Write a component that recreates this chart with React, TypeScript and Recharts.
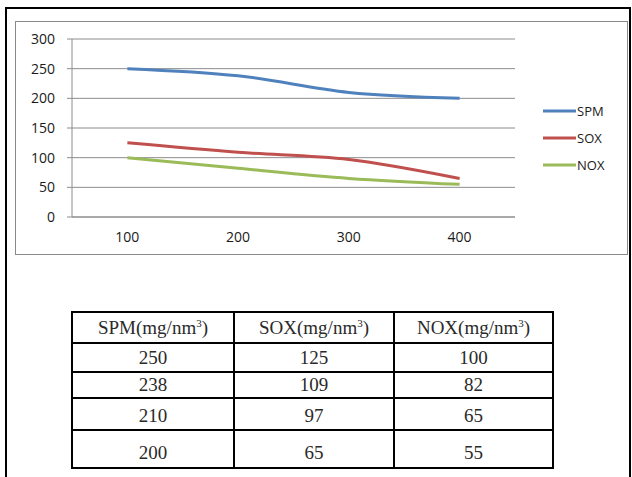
import { LineChart, Line, XAxis, YAxis, CartesianGrid, Legend } from "recharts"

const categories = [100, 200, 300, 400]
const spm = [250, 238, 210, 200]
const sox = [125, 109, 97, 65]
const nox = [100, 82, 65, 55]
const yTicks = [0, 50, 100, 150, 200, 250, 300]
const bandEdges = [50, 150, 250, 350, 450]
const headers = ["SPM", "SOX", "NOX"]
const unit = "(mg/nm"

const chartData = categories.map((c, i) => ({ x: c, SPM: spm[i], SOX: sox[i], NOX: nox[i] }))

const rowHeights = [29, 26, 32, 38]
const rowAlign: Array<"middle" | "bottom"> = ["middle", "middle", "bottom", "bottom"]
const rowPad = [0, 0, 2, 3]

const axisFont = { fontSize: 14, fill: "#1a1a1a", fontFamily: "'Open Sans', sans-serif" }
const serif = "'Liberation Serif', 'Times New Roman', serif"

function LegendBox(props: any) {
  const items = [...(props.payload || [])].sort(
    (a: any, b: any) => headers.indexOf(a.value) - headers.indexOf(b.value)
  )
  return (
    <div style={{ fontFamily: "'Open Sans', sans-serif", fontSize: 13, color: "#1a1a1a" }}>
      {items.map((it: any) => (
        <div key={it.value} style={{ display: "flex", alignItems: "center", height: 27 }}>
          <svg width={33} height={10}>
            <line x1={0} y1={5} x2={33} y2={5} stroke={it.color} strokeWidth={3} />
          </svg>
          <span style={{ marginLeft: 1 }}>{it.value}</span>
        </div>
      ))}
    </div>
  )
}

const cell = (extra: any) => ({
  border: "2px solid #000",
  padding: 0,
  fontFamily: serif,
  fontSize: 19,
  lineHeight: "22px",
  color: "#2a2a2a",
  ...extra,
})

export default function App() {
  return (
    <div style={{ position: "absolute", left: 0, top: 0, width: 632, height: 477, overflow: "hidden", background: "#fff" }}>
      <div
        style={{
          position: "absolute",
          left: 5,
          top: 7,
          width: 622,
          height: 480,
          borderLeft: "2px solid #000",
          borderTop: "2px solid #000",
          borderRight: "2px solid #000",
        }}
      />
      <div style={{ position: "absolute", left: 15, top: 21, width: 611, height: 232, border: "1px solid #8a8a8a" }}>
        <LineChart width={611} height={232} data={chartData} margin={{ top: 17, right: 32, bottom: 7, left: 0 }}>
          <CartesianGrid vertical={false} stroke="#8c8c8c" strokeWidth={1} />
          <XAxis
            xAxisId="edges"
            type="number"
            domain={[50, 450]}
            ticks={bandEdges}
            tick={false}
            axisLine={false}
            tickLine={{ stroke: "#8c8c8c" }}
            tickSize={5}
            height={0}
          />
          <XAxis
            dataKey="x"
            type="number"
            domain={[50, 450]}
            ticks={categories}
            tickLine={false}
            axisLine={{ stroke: "#8c8c8c" }}
            tick={axisFont}
            dy={7}
            height={30}
          />
          <YAxis
            domain={[0, 300]}
            ticks={yTicks}
            width={56}
            axisLine={{ stroke: "#8c8c8c" }}
            tickLine={{ stroke: "#8c8c8c" }}
            tickSize={5}
            tickMargin={12}
            tick={axisFont}
          />
          <Legend
            layout="vertical"
            align="right"
            verticalAlign="top"
            content={<LegendBox />}
            wrapperStyle={{ left: 527, top: 75, width: 80 }}
          />
          <Line type="monotone" dataKey="SPM" stroke="#4F81BD" strokeWidth={3} dot={false} isAnimationActive={false} />
          <Line type="monotone" dataKey="SOX" stroke="#C0504D" strokeWidth={3} dot={false} isAnimationActive={false} />
          <Line type="monotone" dataKey="NOX" stroke="#9BBB59" strokeWidth={3} dot={false} isAnimationActive={false} />
        </LineChart>
      </div>
      <table
        style={{
          position: "absolute",
          left: 71,
          top: 311,
          width: 483,
          borderCollapse: "collapse",
          textAlign: "center",
        }}
      >
        <colgroup>
          <col style={{ width: 162 }} />
          <col style={{ width: 160 }} />
          <col style={{ width: 159 }} />
        </colgroup>
        <tbody>
          <tr style={{ height: 31 }}>
            {headers.map((h) => (
              <td key={h} style={cell({})}>
                {h}
                {unit}
                <sup style={{ fontSize: 11, lineHeight: 0 }}>3</sup>)
              </td>
            ))}
          </tr>
          {categories.map((c, i) => (
            <tr key={c} style={{ height: rowHeights[i] }}>
              {[spm[i], sox[i], nox[i]].map((v, j) => (
                <td key={j} style={cell({ paddingBottom: rowPad[i], verticalAlign: rowAlign[i] })}>
                  {v}
                </td>
              ))}
            </tr>
          ))}
        </tbody>
      </table>
    </div>
  )
}
